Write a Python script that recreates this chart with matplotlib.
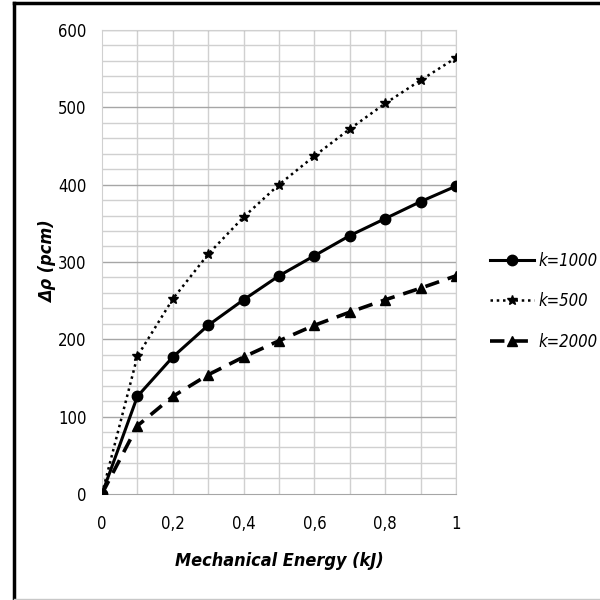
import matplotlib
matplotlib.use("Agg")
import matplotlib.pyplot as plt
from matplotlib.lines import Line2D

plt.rcParams['font.family'] = ['DejaVu Sans']
plt.rcParams['font.stretch'] = 'condensed'

# data
energy = [0, 0.1, 0.2, 0.3, 0.4, 0.5, 0.6, 0.7, 0.8, 0.9, 1.0]
k1000 = [0, 126, 177, 218, 251, 282, 308, 334, 356, 378, 398]
k500 = [0, 178, 252, 310, 358, 400, 437, 472, 505, 535, 564]
k2000 = [0, 88, 126, 154, 177, 198, 218, 235, 251, 266, 282]

x_ticks = [0, 0.2, 0.4, 0.6, 0.8, 1.0]
x_labels = ["0", "0,2", "0,4", "0,6", "0,8", "1"]
y_ticks = [0, 100, 200, 300, 400, 500, 600]

fig = plt.figure(figsize=(6, 6), dpi=100)
ax = fig.add_axes([0.17, 0.177, 0.59, 0.773])

# grid: light lines every 0.1 / 20, darker every 100
for gx in [i / 10 for i in range(1, 11)]:
    ax.axvline(gx, color='#d0d0d0', lw=1, zorder=0)
for gy in range(20, 620, 20):
    c = '#a6a6a6' if gy % 100 == 0 else '#d0d0d0'
    ax.axhline(gy, color=c, lw=1, zorder=0)

ax.plot(energy, k1000, color='black', lw=2.2, marker='o', markersize=7.5,
        label='k=1000', zorder=3)
ax.plot(energy, k500, color='black', lw=1.8, ls=(0, (1, 1.5)), marker='*',
        markersize=7, label='k=500', zorder=3)
ax.plot(energy, k2000, color='black', lw=2.6, ls=(0, (4, 2.5)), marker='^',
        markersize=6.5, label='k=2000', zorder=3)

ax.set_xlim(0, 1)
ax.set_ylim(0, 600)
ax.set_xticks(x_ticks)
ax.set_xticklabels(x_labels)
ax.set_yticks(y_ticks)
ax.tick_params(length=0, labelsize=12)
ax.tick_params(axis='x', pad=15)
ax.tick_params(axis='y', pad=11)
for s in ax.spines.values():
    s.set_color('#d0d0d0')
ax.spines['bottom'].set_color('#a6a6a6')

ax.set_xlabel('Mechanical Energy (kJ)', fontsize=13, fontweight='bold',
              style='italic', labelpad=14)
ax.set_ylabel('Δρ (pcm)', fontsize=13, fontweight='bold', style='italic',
              labelpad=1)

handles = [
    Line2D([], [], color='black', lw=2.2, marker='o', markersize=7.5),
    Line2D([], [], color='black', lw=1.8, ls=(0, (1, 1.5)), marker='*', markersize=7),
    Line2D([], [], color='black', lw=2.6, ls=(0, (4, 2.5)), marker='^', markersize=6.5),
]
leg = fig.legend(handles, ['k=1000', 'k=500', 'k=2000'], loc='center left',
                 bbox_to_anchor=(0.817, 0.498), frameon=False, handlelength=2.6,
                 handletextpad=0.3, labelspacing=1.35, borderaxespad=0,
                 borderpad=0, prop={'style': 'italic', 'size': 12})

# figure border: thick black on left/top, light grey on right/bottom
fig.add_artist(Line2D([0.024, 0.024], [0.0, 0.995], color='black', lw=2.5,
                      transform=fig.transFigure))
fig.add_artist(Line2D([0.024, 1.0], [0.995, 0.995], color='black', lw=2.5,
                      transform=fig.transFigure))
fig.add_artist(Line2D([0.024, 1.0], [0.002, 0.002], color='#c8c8c8', lw=1,
                      transform=fig.transFigure))

fig.savefig('out.png', dpi=100)
